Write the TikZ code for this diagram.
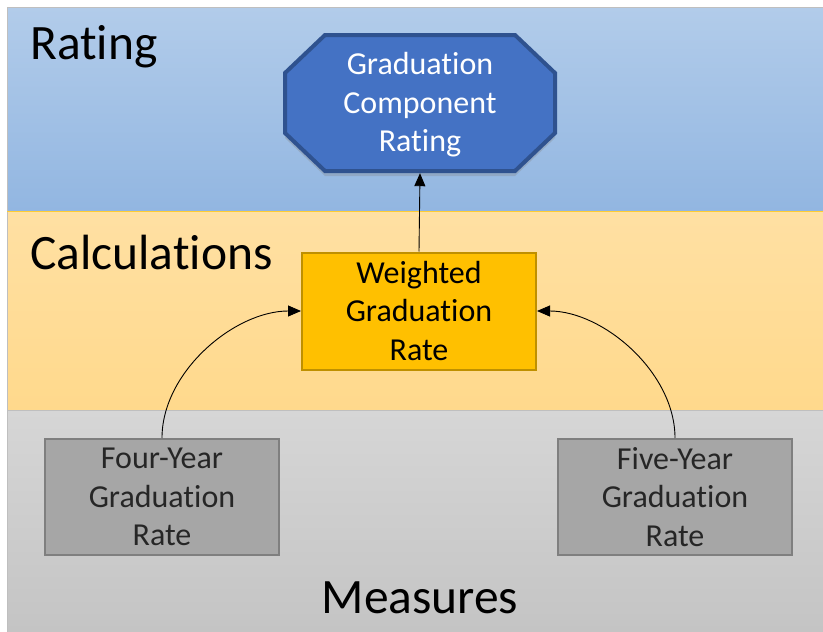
\documentclass[tikz,border=0pt]{standalone}
\usepackage{fontspec}
\setmainfont{Carlito}[RawFeature={-liga;-clig;-calt}]
\usetikzlibrary{arrows.meta,shadows,calc}
\definecolor{bandblueT}{HTML}{B2CCEA}
\definecolor{bandblueB}{HTML}{92B6E1}
\definecolor{bandorT}{HTML}{FFE0A3}
\definecolor{bandorB}{HTML}{FFD98C}
\definecolor{bandgrT}{HTML}{D6D6D6}
\definecolor{bandgrB}{HTML}{C4C4C4}
\definecolor{octfill}{HTML}{4472C4}
\definecolor{octline}{HTML}{2F528F}
\definecolor{goldfill}{HTML}{FFC000}
\definecolor{goldline}{HTML}{BF9000}
\definecolor{greyfill}{HTML}{A6A6A6}
\definecolor{greyline}{HTML}{7F7F7F}
\definecolor{darktext}{HTML}{262626}
\tikzset{
  bandtitle/.style={font=\fontsize{49.5}{58}\selectfont, text=black, inner sep=0pt},
  boxtext/.style={font=\fontsize{32}{38.4}\selectfont, align=center, inner sep=0pt},
  goldbox/.style={boxtext, draw=goldline, fill=goldfill, line width=2pt, minimum width=234pt, minimum height=117pt},
  greybox/.style={boxtext, draw=greyline, fill=greyfill, line width=2pt, minimum width=234pt, minimum height=116pt, text=darktext},
  conn/.style={line width=0.9pt, draw=black, -{Triangle[length=13pt,width=11pt]}},
}
\begin{document}
\begin{tikzpicture}[x=1pt,y=-1pt]
\useasboundingbox (0,0) rectangle (823,632);
\fill[white] (0,0) rectangle (823,632);
% bands
\shade[top color=bandblueT, bottom color=bandblueB] (7,7) rectangle (823,211);
\shade[top color=bandorT, bottom color=bandorB] (7,211) rectangle (823,410);
\shade[top color=bandgrT, bottom color=bandgrB] (7,410) rectangle (823,632);
\draw[line width=0.8pt, draw=black!25] (7,632) -- (7,7) -- (823,7);
\draw[line width=1pt, draw=goldfill!80!white] (7,211) -- (823,211);
\draw[line width=1pt, draw=black!25] (7,410) -- (823,410);
% band titles
\node[bandtitle, anchor=west] (tRating) at (30,47) {Rating};
\node[bandtitle, anchor=west] (tCalc) at (30,252) {Calculations};
\node[bandtitle] (tMeas) at (420,598) {Measures};
% octagon
\draw[line width=4pt, draw=octline, fill=octfill, line join=miter,
      drop shadow={opacity=0.3, shadow xshift=0pt, shadow yshift=-5pt}]
  (325,35) -- (515,35) -- (555,73) -- (555,133) -- (515,171) -- (325,171) -- (285,133) -- (285,73) -- cycle;
\node[boxtext, text=white, minimum width=270pt, minimum height=136pt] (rating) at (420,105) {Graduation\\Component\\Rating};
% calculation box
\node[goldbox] (weighted) at (419,311) {Weighted\\Graduation\\Rate};
% measures
\node[greybox] (four) at (162,497) {Four-Year\\Graduation\\Rate};
\node[greybox] (five) at (675,497) {Five-Year\\Graduation\\Rate};
% connectors
\draw[conn] (weighted.north) -- (rating.south);
\draw[conn] (four.north) to[out=90, in=180, looseness=0.9] (weighted.west);
\draw[conn] (five.north) to[out=90, in=0, looseness=0.9] (weighted.east);
\end{tikzpicture}
\end{document}
